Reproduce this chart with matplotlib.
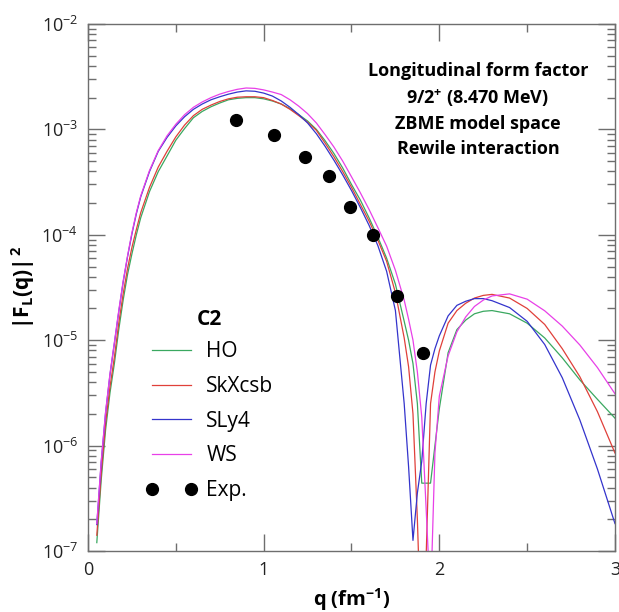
import matplotlib

matplotlib.use("Agg")
import matplotlib.pyplot as plt
from matplotlib.ticker import LogLocator, MultipleLocator, NullFormatter

plt.rcParams["font.family"] = ["Open Sans", "DejaVu Sans"]
plt.rcParams["mathtext.fontset"] = "custom"
plt.rcParams["mathtext.rm"] = "Open Sans"
plt.rcParams["mathtext.bf"] = "Open Sans:bold"
plt.rcParams["mathtext.it"] = "Open Sans:italic"

# momentum transfer grid (fm^-1)
q = [0.05, 0.075, 0.1, 0.125, 0.15, 0.175, 0.2, 0.225, 0.25, 0.275, 0.3, 0.35, 0.4,
     0.45, 0.5, 0.55, 0.6, 0.65, 0.7, 0.75, 0.8, 0.85, 0.9, 0.95, 1.0, 1.05, 1.1,
     1.15, 1.2, 1.25, 1.3, 1.35, 1.4, 1.45, 1.5, 1.55, 1.6, 1.65, 1.7, 1.75, 1.8,
     1.825, 1.85, 1.875, 1.9, 1.925, 1.95, 1.975, 2.0, 2.05, 2.1, 2.15, 2.2, 2.25,
     2.3, 2.4, 2.5, 2.6, 2.7, 2.8, 2.9, 3.0]

f_ho = [1.2e-7, 4.7e-7, 1.41e-6, 3.16e-6, 6.0e-6, 1.26e-5, 2.4e-5, 4.2e-5, 6.6e-5,
        1.0e-4, 1.45e-4, 2.57e-4, 3.98e-4, 5.6e-4, 7.9e-4, 1.02e-3, 1.29e-3, 1.48e-3,
        1.64e-3, 1.78e-3, 1.91e-3, 1.97e-3, 2.0e-3, 2.0e-3, 1.95e-3, 1.86e-3, 1.74e-3,
        1.57e-3, 1.38e-3, 1.2e-3, 1.0e-3, 7.8e-4, 5.9e-4, 4.3e-4, 3.0e-4, 2.14e-4,
        1.45e-4, 9.5e-5, 6.0e-5, 3.4e-5, 1.51e-5, 1.0e-5, 6.0e-6, 2.5e-6, 4.4e-7,
        4.4e-7, 4.4e-7, 1.0e-6, 2.24e-6, 7.6e-6, 1.26e-5, 1.55e-5, 1.78e-5, 1.88e-5,
        1.91e-5, 1.78e-5, 1.45e-5, 1.05e-5, 6.8e-6, 4.2e-6, 2.75e-6, 1.82e-6]

f_skxcsb = [1.41e-7, 5.4e-7, 1.62e-6, 3.6e-6, 6.9e-6, 1.45e-5, 2.75e-5, 4.8e-5,
            7.6e-5, 1.12e-4, 1.62e-4, 2.82e-4, 4.4e-4, 6.2e-4, 8.5e-4, 1.1e-3,
            1.35e-3, 1.55e-3, 1.7e-3, 1.84e-3, 1.95e-3, 2.02e-3, 2.04e-3, 2.04e-3,
            2.0e-3, 1.88e-3, 1.74e-3, 1.55e-3, 1.35e-3, 1.17e-3, 9.8e-4, 7.4e-4,
            5.5e-4, 3.98e-4, 2.82e-4, 1.95e-4, 1.35e-4, 8.9e-5, 5.6e-5, 2.82e-5,
            1.05e-5, 5.6e-6, 2.0e-6, 2.0e-7, 1.0e-8, 8.9e-8, 2.5e-6, 5.0e-6, 7.9e-6,
            1.45e-5, 1.91e-5, 2.24e-5, 2.51e-5, 2.66e-5, 2.72e-5, 2.51e-5, 2.0e-5,
            1.41e-5, 8.3e-6, 4.5e-6, 2.1e-6, 8.5e-7]

f_sly4 = [1.78e-7, 6.9e-7, 2.04e-6, 4.7e-6, 9.3e-6, 1.86e-5, 3.55e-5, 6.2e-5, 1.02e-4,
          1.58e-4, 2.29e-4, 3.98e-4, 6.2e-4, 8.4e-4, 1.08e-3, 1.32e-3, 1.55e-3,
          1.74e-3, 1.91e-3, 2.04e-3, 2.16e-3, 2.26e-3, 2.32e-3, 2.3e-3, 2.21e-3,
          2.07e-3, 1.86e-3, 1.62e-3, 1.38e-3, 1.15e-3, 9.1e-4, 6.9e-4, 5.1e-4,
          3.7e-4, 2.63e-4, 1.82e-4, 1.23e-4, 7.9e-5, 4.5e-5, 1.91e-5, 2.5e-6, 6.3e-7,
          1.26e-7, 3.55e-7, 7.1e-7, 2.5e-6, 5.8e-6, 8.3e-6, 1.1e-5, 1.7e-5, 2.14e-5,
          2.34e-5, 2.48e-5, 2.48e-5, 2.37e-5, 2.04e-5, 1.51e-5, 9.1e-6, 4.4e-6,
          1.75e-6, 6.0e-7, 1.82e-7]

f_ws = [1.82e-7, 7.1e-7, 2.09e-6, 4.8e-6, 9.5e-6, 1.91e-5, 3.63e-5, 6.3e-5, 1.05e-4,
        1.62e-4, 2.34e-4, 4.07e-4, 6.3e-4, 8.7e-4, 1.12e-3, 1.38e-3, 1.62e-3, 1.82e-3,
        2.0e-3, 2.16e-3, 2.29e-3, 2.4e-3, 2.47e-3, 2.45e-3, 2.37e-3, 2.26e-3, 2.14e-3,
        1.91e-3, 1.66e-3, 1.41e-3, 1.15e-3, 8.9e-4, 6.8e-4, 5.0e-4, 3.55e-4, 2.51e-4,
        1.74e-4, 1.17e-4, 7.8e-5, 4.6e-5, 2.4e-5, 1.58e-5, 1.0e-5, 5.0e-6, 1.86e-6,
        2.5e-7, 3.2e-8, 8.5e-7, 2.95e-6, 7.1e-6, 1.2e-5, 1.66e-5, 2.09e-5, 2.4e-5,
        2.63e-5, 2.75e-5, 2.45e-5, 1.9e-5, 1.36e-5, 9.0e-6, 5.5e-6, 3.1e-6]

q_exp = [0.842, 1.058, 1.236, 1.370, 1.491, 1.620, 1.757, 1.905]
f_exp = [1.24e-3, 8.9e-4, 5.5e-4, 3.6e-4, 1.85e-4, 9.9e-5, 2.6e-5, 7.5e-6]

fig = plt.figure(figsize=(6.19, 6.12), dpi=100)
ax = fig.add_axes([0.1422, 0.0997, 0.8513, 0.8611])

lw = 0.9
ax.plot(q, f_ho, color="#3aa860", lw=lw, label="HO")
ax.plot(q, f_skxcsb, color="#e0403a", lw=lw, label="SkXcsb")
ax.plot(q, f_sly4, color="#3434cc", lw=lw, label="SLy4")
ax.plot(q, f_ws, color="#e840e8", lw=lw, label="WS")
ax.plot(q_exp, f_exp, "o", color="black", ms=8.5, label="Exp.")

ax.set_yscale("log")
ax.set_xlim(0, 3)
ax.set_ylim(1e-7, 1e-2)

ax.xaxis.set_major_locator(MultipleLocator(1))
ax.xaxis.set_minor_locator(MultipleLocator(0.5))
ax.yaxis.set_major_locator(LogLocator(base=10, numticks=10))
ax.yaxis.set_minor_locator(LogLocator(base=10, subs=range(2, 10), numticks=100))
ax.yaxis.set_minor_formatter(NullFormatter())

edge = "#6e6e6e"
for side in ax.spines.values():
    side.set_color(edge)
    side.set_linewidth(1.0)
ax.tick_params(which="both", direction="in", top=True, right=True, color=edge,
               width=1.0, labelsize=13, labelcolor="#222222")
ax.tick_params(which="major", length=12.5, pad=7)
ax.tick_params(which="minor", length=6)

ax.set_xlabel(r"q (fm$^{\mathbf{-1}}$)", fontsize=14.5, fontweight="bold", labelpad=5)
ax.set_ylabel(r"$\mathbf{|F_L(q)|^{\,2}}$", fontsize=15, labelpad=3)

note = ("Longitudinal form factor\n"
        r"9/2$^{\mathbf{+}}$ (8.470 MeV)" "\n"
        "ZBME model space\n"
        "Rewile interaction")
ax.text(0.74, 0.928, note, transform=ax.transAxes, ha="center", va="top",
        fontsize=13, fontweight="bold", linespacing=1.45)

ax.text(0.207, 0.44, "C2", transform=ax.transAxes, ha="left", va="center",
        fontsize=15, fontweight="bold")
ax.legend(loc="upper left", bbox_to_anchor=(0.11, 0.398), frameon=False, fontsize=15,
          numpoints=2, handlelength=2.45, handletextpad=0.45, labelspacing=0.66,
          borderpad=0, borderaxespad=0)

fig.savefig("out.png", dpi=100)
